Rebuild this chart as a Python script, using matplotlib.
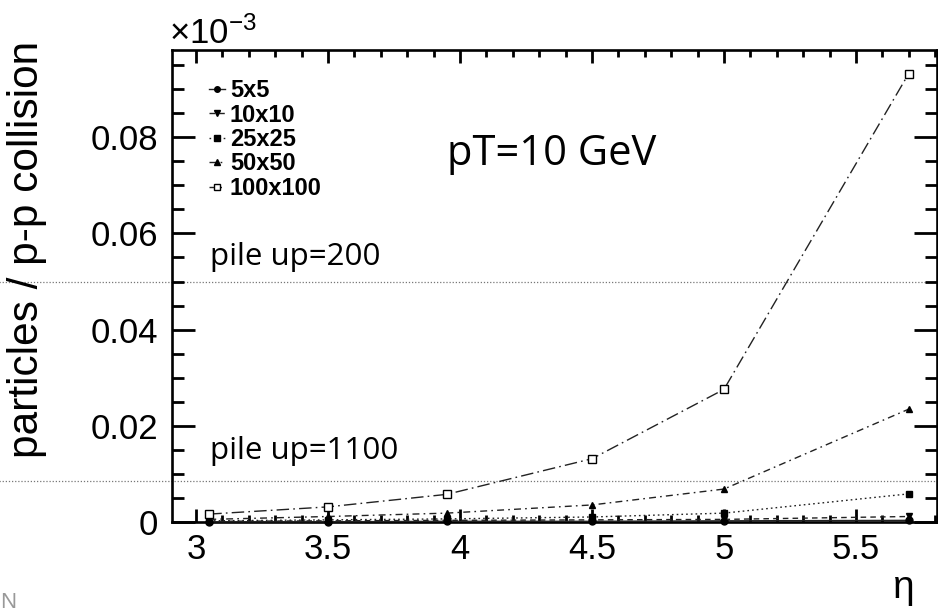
import numpy as np
import matplotlib as mpl
import matplotlib.pyplot as plt
from matplotlib.ticker import MultipleLocator, FuncFormatter

mpl.rcParams['font.family'] = 'Liberation Sans'
mpl.rcParams['mathtext.fontset'] = 'custom'
mpl.rcParams['mathtext.rm'] = 'Liberation Sans'
mpl.rcParams['mathtext.it'] = 'Liberation Sans:italic'

# eta bins
eta = [3.05, 3.5, 3.95, 4.5, 5.0, 5.7]

# particles per p-p collision, one series per cell size
s5x5 = [0.0001, 0.0001, 0.0002, 0.0002, 0.0003, 0.0004]
s10x10 = [0.0002, 0.0003, 0.0004, 0.0005, 0.0006, 0.0012]
s25x25 = [0.0003, 0.0005, 0.0007, 0.0011, 0.0019, 0.0059]
s50x50 = [0.0006, 0.0012, 0.0019, 0.0036, 0.0069, 0.0235]
s100x100 = [0.0017, 0.0032, 0.0058, 0.0132, 0.0276, 0.0932]

labels = ['5x5', '10x10', '25x25', '50x50', '100x100']

# pile-up thresholds (dotted lines)
pileup_levels = [0.05, 0.0086]
pileup_texts = ['pile up=200', 'pile up=1100']

fig = plt.figure(figsize=(9.38, 6.13), dpi=100)
ax = fig.add_axes([0.1831, 0.148, 0.8158, 0.7705])

series = [s5x5, s10x10, s25x25, s50x50, s100x100]
styles = [
    dict(ls='-', marker='o', mfc='k', ms=5),
    dict(ls=(0, (4, 3)), marker='v', mfc='k', ms=5),
    dict(ls=(0, (1.2, 2.2)), marker='s', mfc='k', ms=5),
    dict(ls=(0, (5, 3, 1.2, 3)), marker='^', mfc='k', ms=5),
    dict(ls=(0, (9, 3, 1.2, 3)), marker='s', mfc='white', ms=6),
]
for vals, lab, st in zip(series, labels, styles):
    ax.plot(eta, vals, color='#222222', lw=1.0, mec='k', mew=1.0,
            label=lab, clip_on=False, zorder=3, **st)

# dotted pile-up lines reaching across the whole figure
for lev in pileup_levels:
    ax.axhline(lev, xmin=-0.23, xmax=1.01, color='#777777', lw=0.9,
               ls=(0, (1, 1.5)), clip_on=False, zorder=1)

ax.text(0.05, 0.545, pileup_texts[0], transform=ax.transAxes,
        fontsize=22.5, family='Open Sans', va='baseline')
ax.text(0.05, 0.1334, pileup_texts[1], transform=ax.transAxes,
        fontsize=22.5, family='Open Sans', va='baseline')
ax.text(0.36, 0.7565, 'pT=10 GeV', transform=ax.transAxes,
        fontsize=30, family='Open Sans', va='baseline')

ax.set_xlim(2.908, 5.807)
ax.set_ylim(0, 0.0981)

ax.xaxis.set_major_locator(MultipleLocator(0.5))
ax.xaxis.set_minor_locator(MultipleLocator(0.1))
ax.yaxis.set_major_locator(MultipleLocator(0.02))
ax.yaxis.set_minor_locator(MultipleLocator(0.005))
ax.xaxis.set_major_formatter(FuncFormatter(lambda v, p: '%g' % v))
ax.yaxis.set_major_formatter(FuncFormatter(lambda v, p: '0' if abs(v) < 1e-9 else '%.2f' % v))

ax.tick_params(which='both', direction='in', top=True, right=True, width=2.0,
               labelsize=25)
ax.tick_params(axis='x', which='major', length=9.5, pad=8)
ax.tick_params(axis='x', which='minor', length=5)
ax.tick_params(axis='y', which='major', length=16.5, pad=10)
ax.tick_params(axis='y', which='minor', length=8.5)
for sp in ax.spines.values():
    sp.set_linewidth(1.9)

ax.set_ylabel('particles / p-p collision', fontsize=30.5, loc='top')
ax.yaxis.set_label_coords(-0.163, 1.02)
ax.set_xlabel('η', fontsize=28, loc='right')
ax.xaxis.set_label_coords(0.971, -0.1)

ax.text(-0.003, 1.013, r'$\times10^{-3}$', transform=ax.transAxes,
        fontsize=25, va='baseline')

ax.legend(loc='upper left', bbox_to_anchor=(0.036, 0.958), frameon=False,
          prop=dict(weight='bold', size=17), handlelength=0.7,
          handletextpad=0.2, labelspacing=0.06, borderaxespad=0,
          markerscale=0.8)

fig.text(0.0, 0.0, 'N', color='#999999', fontsize=16, va='bottom')

plt.savefig('out.png', dpi=100)
